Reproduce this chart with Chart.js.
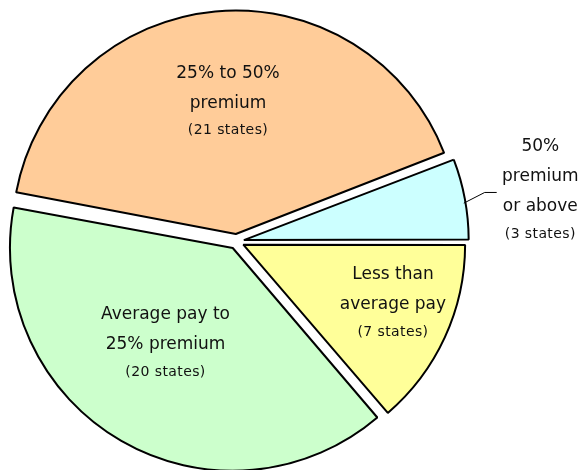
<!DOCTYPE html>
<html>
<head>
<meta charset="utf-8">
<script src="https://cdn.jsdelivr.net/npm/chart.js@4.4.0/dist/chart.umd.min.js"></script>
<style>
  html, body { margin: 0; padding: 0; background: #fff; }
  #wrap { width: 580px; height: 470px; }
</style>
</head>
<body>
<div id="wrap"><canvas id="payPie" width="580" height="470"></canvas></div>
<script>
const categories = [
    "25% to 50% premium",
    "50% premium or above",
    "Less than average pay",
    "Average pay to 25% premium"
];
const stateCounts = [21, 3, 7, 20];
const labelLines = [
    ["25% to 50%", "premium"],
    ["50%", "premium", "or above"],
    ["Less than", "average pay"],
    ["Average pay to", "25% premium"]
];
const sliceColors = ["#FFCC99", "#CCFFFF", "#FFFF99", "#CCFFCC"];

// where each label sits: [angle shift in degrees, fraction of radius, outside?]
const labelPlace = [
    [1.8, 0.635, false],
    [1.1, 1.40, true],
    [-3.1, 0.765, false],
    [4.8, 0.565, false]
];

const sliceLabels = {
    id: 'sliceLabels',
    afterDatasetsDraw(chart) {
        const ctx = chart.ctx;
        const arcs = chart.getDatasetMeta(0).data;
        ctx.save();
        ctx.fillStyle = '#111';
        ctx.textAlign = 'center';
        ctx.textBaseline = 'middle';
        arcs.forEach((arc, i) => {
            const mid = (arc.startAngle + arc.endAngle) / 2;
            const [shift, frac, outside] = labelPlace[i];
            const a = mid + shift * Math.PI / 180;
            const r = arc.outerRadius * frac;
            const cx = arc.x + Math.cos(a) * r;
            const cy = arc.y + Math.sin(a) * r;

            const lines = labelLines[i].concat(["(" + stateCounts[i] + " states)"]);
            const ys = [];
            let y = 0;
            lines.forEach((l, k) => {
                if (k > 0) y += (k === lines.length - 1) ? 27.5 : 30;
                ys.push(y);
            });
            const off = (ys[0] + ys[ys.length - 1]) / 2;
            lines.forEach((l, k) => {
                const small = k === lines.length - 1;
                ctx.font = small ? '14px "DejaVu Sans"' : '17px "DejaVu Sans"';
                ctx.letterSpacing = small ? '0.4px' : '0px';
                ctx.fillText(l, cx, cy + ys[k] - off);
            });

            if (outside) {
                // leader line from the slice edge
                const shiftOut = (chart.data.datasets[0].offset || 0) / 4;
                const sa = mid + 1 * Math.PI / 180;
                const sx = arc.x + Math.cos(sa) * (arc.outerRadius + shiftOut + 3);
                const sy = arc.y + Math.sin(sa) * (arc.outerRadius + shiftOut + 3);
                const ea = mid - 0.6 * Math.PI / 180;
                const ex = arc.x + Math.cos(ea) * (arc.outerRadius * 1.15);
                const ey = arc.y + Math.sin(ea) * (arc.outerRadius * 1.15);
                ctx.strokeStyle = '#000';
                ctx.lineWidth = 1;
                ctx.beginPath();
                ctx.moveTo(sx, sy);
                ctx.lineTo(ex, ey);
                ctx.lineTo(ex + 12, ey);
                ctx.stroke();
            }
        });
        ctx.restore();
    }
};

new Chart(document.getElementById('payPie'), {
    type: 'pie',
    data: {
        labels: categories,
        datasets: [{
            data: stateCounts,
            backgroundColor: sliceColors,
            borderColor: '#000',
            borderWidth: 2,
            offset: 30
        }]
    },
    options: {
        responsive: false,
        animation: false,
        rotation: -79.4,
        radius: 220,
        layout: { padding: { top: 13, right: 107, bottom: 0, left: 0 } },
        plugins: {
            legend: { display: false },
            tooltip: { enabled: false }
        }
    },
    plugins: [sliceLabels]
});
</script>
</body>
</html>
